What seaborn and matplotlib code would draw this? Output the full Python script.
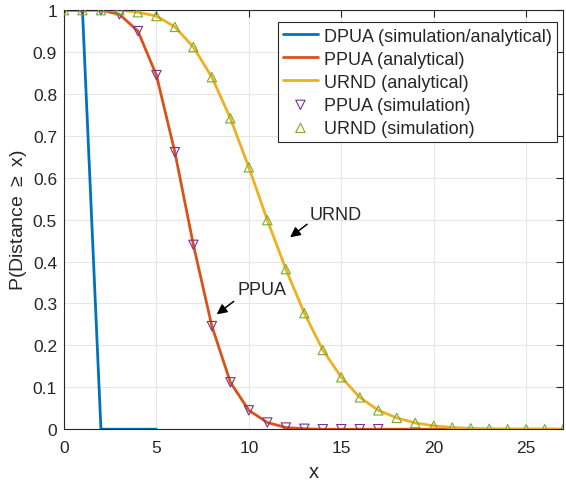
import numpy as np
import pandas as pd
import matplotlib
matplotlib.use("Agg")
import matplotlib.pyplot as plt
import seaborn as sns

# Data
x_dpua = [0, 1, 2, 3, 4, 5]
dpua = [1, 1, 0, 0, 0, 0]

x_all = list(range(0, 28))
ppua = [1, 1, 1, 0.99, 0.95, 0.845, 0.661, 0.44, 0.246, 0.112, 0.045, 0.016, 0.004, 0.001,
        0, 0, 0, 0, 0, 0, 0, 0, 0, 0, 0, 0, 0, 0]
urnd = [1, 1, 1, 1, 0.995, 0.986, 0.96, 0.912, 0.84, 0.742, 0.625, 0.499, 0.382, 0.277,
        0.189, 0.124, 0.076, 0.045, 0.027, 0.015, 0.008, 0.004, 0.002, 0.001, 0, 0, 0, 0]
n_ppua_sim = 18  # simulation markers for PPUA at x = 0..17

xticks = [0, 5, 10, 15, 20, 25]
yticks = [0, 0.1, 0.2, 0.3, 0.4, 0.5, 0.6, 0.7, 0.8, 0.9, 1]
ytick_labels = ["0", "0.1", "0.2", "0.3", "0.4", "0.5", "0.6", "0.7", "0.8", "0.9", "1"]

c_blue = "#0072BD"
c_orange = "#D95319"
c_yellow = "#EDB120"
c_purple = "#7E2F8E"
c_green = "#77AC30"

sns.set_style("white")
plt.rcParams['font.family'] = ['Liberation Sans', 'DejaVu Sans']
plt.rcParams['mathtext.fontset'] = 'custom'
plt.rcParams['mathtext.rm'] = 'Liberation Sans'

fig = plt.figure(figsize=(5.66, 4.85), dpi=100)
ax = fig.add_axes([0.113, 0.113, 0.882, 0.864])

df_d = pd.DataFrame({"x": x_dpua, "y": dpua})
df_p = pd.DataFrame({"x": x_all, "y": ppua})
df_u = pd.DataFrame({"x": x_all, "y": urnd})
df_ps = df_p.iloc[:n_ppua_sim]

sns.lineplot(data=df_d, x="x", y="y", ax=ax, color=c_blue, lw=2,
             label="DPUA (simulation/analytical)")
sns.lineplot(data=df_p, x="x", y="y", ax=ax, color=c_orange, lw=2,
             label="PPUA (analytical)")
sns.lineplot(data=df_u, x="x", y="y", ax=ax, color=c_yellow, lw=2,
             label="URND (analytical)")
sns.scatterplot(data=df_ps, x="x", y="y", ax=ax, marker="v", s=45,
                facecolor="none", edgecolor=c_purple, linewidth=0.8,
                label="PPUA (simulation)", zorder=5)
sns.scatterplot(data=df_u, x="x", y="y", ax=ax, marker="^", s=45,
                facecolor="none", edgecolor=c_green, linewidth=0.8,
                label="URND (simulation)", zorder=5)

ax.set_xlim(0, 27)
ax.set_ylim(0, 1)
ax.set_xticks(xticks)
ax.set_yticks(yticks)
ax.set_yticklabels(ytick_labels)
ax.grid(True, color="#e6e6e6", lw=0.8)
ax.set_axisbelow(True)
ax.tick_params(direction="in", length=5, labelsize=12.5, top=True, right=True, color="#262626")
ax.tick_params(axis="x", pad=8)
ax.tick_params(axis="y", pad=5)
for s in ax.spines.values():
    s.set_color("#262626")
    s.set_linewidth(0.8)
ax.set_xlabel("x", fontsize=14.5, labelpad=5)
ax.set_ylabel("P(Distance $\\geq$ x)", fontsize=14, labelpad=3)

arrow_kw = dict(arrowstyle="-|>", color="black", lw=1.1, shrinkA=0, shrinkB=0,
                mutation_scale=15)
ax.text(13.3, 0.513, "URND", fontsize=13, va="center", ha="left")
ax.annotate("", xy=(12.23, 0.458), xytext=(13.15, 0.489), arrowprops=arrow_kw)
ax.text(9.4, 0.334, "PPUA", fontsize=13, va="center", ha="left")
ax.annotate("", xy=(8.26, 0.274), xytext=(9.18, 0.305), arrowprops=arrow_kw)

leg = ax.legend(loc="upper right", bbox_to_anchor=(0.988, 0.971), fontsize=13,
                frameon=True, fancybox=False, edgecolor="#262626", framealpha=1,
                handlelength=1.9, handletextpad=0.35, borderpad=0.3, labelspacing=0.33,
                borderaxespad=0)
leg.get_frame().set_linewidth(0.8)

fig.savefig("out.png", dpi=100)
